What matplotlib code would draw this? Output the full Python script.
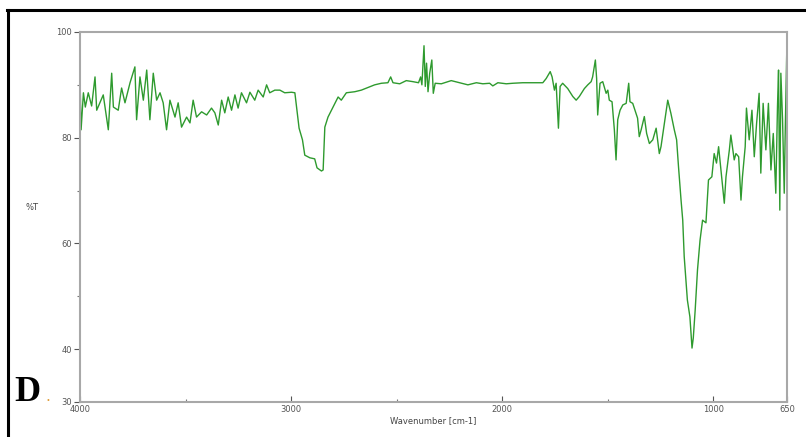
import numpy as np
import matplotlib
matplotlib.use('Agg')
from matplotlib import pyplot as plt
from matplotlib.lines import Line2D

# FTIR spectrum (wavenumber cm-1, %T)
wavenumber = [4000, 3995, 3984, 3975, 3961, 3945, 3929, 3921, 3890, 3866, 3850, 3842,
              3819, 3803, 3787, 3763, 3740, 3732, 3716, 3700, 3684, 3669, 3653, 3637,
              3621, 3606, 3590, 3574, 3550, 3535, 3519, 3495, 3479, 3464, 3448, 3424,
              3400, 3377, 3361, 3345, 3329, 3314, 3298, 3282, 3266, 3251, 3235, 3211,
              3195, 3172, 3156, 3132, 3116, 3101, 3077, 3053, 3030, 2998, 2982, 2972,
              2962, 2946, 2935, 2911, 2888, 2877, 2856, 2848, 2840, 2825, 2801, 2777,
              2762, 2738, 2698, 2667, 2636, 2604, 2572, 2541, 2528, 2517, 2485, 2454,
              2422, 2396, 2386, 2380, 2370, 2364, 2358, 2351, 2343, 2333, 2326, 2317,
              2288, 2241, 2201, 2162, 2122, 2091, 2059, 2044, 2020, 1980, 1949, 1902,
              1855, 1807, 1791, 1772, 1763, 1752, 1744, 1733, 1725, 1713, 1689, 1665,
              1649, 1634, 1610, 1594, 1578, 1571, 1558, 1552, 1547, 1536, 1523, 1507,
              1499, 1492, 1479, 1468, 1460, 1452, 1441, 1428, 1412, 1400, 1394, 1381,
              1368, 1358, 1350, 1341, 1326, 1315, 1302, 1286, 1270, 1255, 1247, 1231,
              1215, 1200, 1184, 1173, 1164, 1152, 1144, 1137, 1122, 1110, 1100, 1094,
              1085, 1074, 1062, 1050, 1034, 1022, 1006, 995, 984, 974, 963, 947,
              939, 923, 916, 900, 892, 879, 868, 861, 848, 842, 829, 816,
              805, 794, 782, 774, 763, 750, 738, 726, 715, 703, 695, 690,
              684, 679, 671, 663, 659, 650]
transmittance = [90.9, 81.5, 88.5, 85.8, 88.5, 86.0, 91.5, 85.2, 88.1, 81.5, 92.2, 85.8,
                 85.2, 89.4, 86.6, 90.4, 93.4, 83.4, 91.5, 87.1, 92.8, 83.4, 92.2, 87.1,
                 88.5, 86.6, 81.5, 87.1, 83.9, 86.6, 82.0, 83.9, 82.8, 87.1, 83.9, 84.9,
                 84.3, 85.6, 84.7, 82.4, 87.1, 84.7, 87.7, 85.2, 88.1, 85.6, 88.5, 86.6,
                 88.6, 87.1, 89.0, 87.7, 90.0, 88.5, 89.0, 89.0, 88.5, 88.6, 88.5, 85.2,
                 81.8, 79.6, 76.7, 76.2, 76.0, 74.3, 73.7, 73.9, 82.0, 83.9, 85.8, 87.7,
                 87.1, 88.5, 88.7, 89.0, 89.5, 90.0, 90.3, 90.4, 91.5, 90.4, 90.2, 90.8,
                 90.6, 90.4, 91.5, 90.0, 97.4, 89.7, 94.1, 88.7, 92.2, 94.7, 88.4, 90.3,
                 90.2, 90.8, 90.4, 90.0, 90.4, 90.2, 90.3, 89.8, 90.4, 90.2, 90.3, 90.4,
                 90.4, 90.4, 91.2, 92.5, 91.5, 89.0, 90.3, 81.8, 89.7, 90.3, 89.3, 87.8,
                 87.1, 87.8, 89.3, 90.0, 90.6, 91.5, 94.7, 91.2, 84.3, 90.3, 90.6, 88.4,
                 89.0, 87.1, 86.8, 81.5, 75.8, 83.4, 85.2, 86.2, 86.5, 90.3, 86.8, 86.5,
                 84.9, 83.7, 80.2, 81.5, 84.0, 80.8, 78.9, 79.6, 81.8, 77.0, 78.3, 82.7,
                 87.1, 84.6, 81.5, 79.6, 74.5, 68.2, 64.4, 57.5, 49.3, 46.1, 40.2, 42.1,
                 47.4, 55.0, 60.6, 64.4, 63.9, 72.0, 72.6, 77.0, 75.2, 78.3, 73.9, 67.6,
                 72.6, 77.7, 80.5, 75.8, 77.0, 76.4, 68.2, 72.6, 78.3, 85.6, 79.6, 85.2,
                 76.4, 82.7, 88.4, 73.3, 86.5, 77.7, 86.5, 73.9, 80.8, 69.5, 85.9, 92.8,
                 66.3, 92.2, 83.4, 69.5, 79.6, 98.5]

x_major = [4000, 3000, 2000, 1000, 650]
x_minor = [3500, 2500, 1500]
y_major = [30, 40, 60, 80, 100]
y_minor = [50, 70, 90]

fig = plt.figure(figsize=(8.06, 4.37), dpi=100)
ax = fig.add_axes([0.0993, 0.0801, 0.8771, 0.8467])

ax.plot(wavenumber, transmittance, color='#2e9a2e', linewidth=1.0)

ax.set_xlim(4000, 650)
ax.set_ylim(30, 100)
ax.set_xticks(x_major)
ax.set_xticks(x_minor, minor=True)
ax.set_yticks(y_major)
ax.set_yticks(y_minor, minor=True)
ax.tick_params(axis='both', which='major', labelsize=6, colors='#555555', length=4, width=0.8)
ax.tick_params(axis='both', which='minor', length=2, width=0.8, colors='#777777')
ax.tick_params(axis='x', which='both', direction='in', pad=2)
ax.tick_params(axis='y', which='both', direction='out', pad=2)
for s in ax.spines.values():
    s.set_color('#a8a8a8')
    s.set_linewidth(1.5)

ax.set_xlabel('Wavenumber [cm-1]', fontsize=6, color='#444444', labelpad=2)
fig.text(0.040, 0.526, '%T', fontsize=6, color='#444444', ha='center', va='center')

# panel letter
fig.text(0.018, 0.083, 'D', fontsize=26, fontweight='bold', family='Liberation Serif',
         color='black', ha='left', va='baseline')
fig.text(0.056, 0.083, '.', fontsize=11, color='#e0a040', ha='left', va='baseline')

# outer frame of the figure panel
fig.add_artist(Line2D([7 / 806, 1.0], [1 - 10 / 437, 1 - 10 / 437], color='black',
                      linewidth=2.2, transform=fig.transFigure))
fig.add_artist(Line2D([8 / 806, 8 / 806], [0, 1 - 10 / 437], color='black',
                      linewidth=2.2, transform=fig.transFigure))

fig.savefig('out.png', dpi=100)
